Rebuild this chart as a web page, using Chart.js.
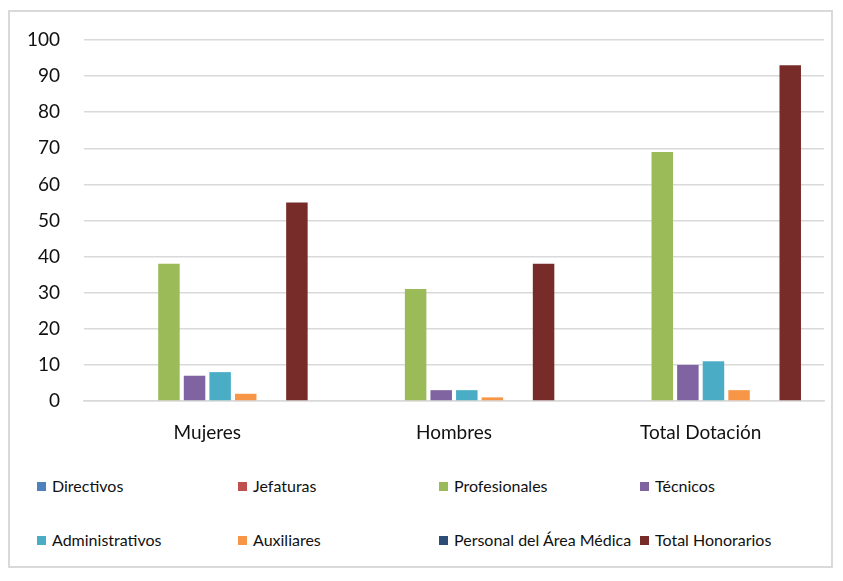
<!DOCTYPE html>
<html>
<head>
<meta charset="utf-8">
<script src="https://cdn.jsdelivr.net/npm/chart.js@4/dist/chart.umd.min.js"></script>
<style>
  body { margin:0; background:#fff; font-family: Lato, "Open Sans", sans-serif; }
  #frame { position:absolute; left:8px; top:10px; width:825px; height:558px; border:2px solid #d9d9d9; box-sizing:border-box; }
  #wrap { position:absolute; left:0; top:0; width:843px; height:460px; }
  #legend { position:absolute; left:37px; top:476px; width:806px; }
  .row { display:flex; height:54px; }
  .item { min-width:201px; font-size:16px; color:#111; white-space:nowrap; line-height:20px; padding-right:6px; box-sizing:border-box; }
  .item i { display:inline-block; width:9px; height:9px; margin-right:6px; vertical-align:1px; }
</style>
</head>
<body>
<div id="frame"></div>
<div id="wrap"><canvas id="chart"></canvas></div>
<div id="legend"></div>
<script>
// categorias y series
const categories = ["Mujeres", "Hombres", "Total Dotación"];
const seriesNames = ["Directivos", "Jefaturas", "Profesionales", "Técnicos",
  "Administrativos", "Auxiliares", "Personal del Área Médica", "Total Honorarios"];
const directivos = [0, 0, 0];
const jefaturas = [0, 0, 0];
const profesionales = [38, 31, 69];
const tecnicos = [7, 3, 10];
const administrativos = [8, 3, 11];
const auxiliares = [2, 1, 3];
const personalMedico = [0, 0, 0];
const totalHonorarios = [55, 38, 93];
const yTicks = [0, 10, 20, 30, 40, 50, 60, 70, 80, 90, 100];

const colors = ["#4F81BD", "#C0504D", "#9BBB59", "#8064A2", "#4BACC6", "#F79646", "#2C4D75", "#772C2A"];
const values = [directivos, jefaturas, profesionales, tecnicos, administrativos, auxiliares, personalMedico, totalHonorarios];

let datasets = [];
for (let i = 0; i < seriesNames.length; i++) {
  datasets.push({
    label: seriesNames[i],
    data: values[i],
    backgroundColor: colors[i],
    categoryPercentage: 0.83,
    barPercentage: 0.84
  });
}

const ctx = document.getElementById("chart").getContext("2d");
const config = new Chart(ctx, {
  type: "bar",
  data: { labels: categories, datasets: datasets },
  options: {
    responsive: true,
    maintainAspectRatio: false,
    animation: false,
    layout: { padding: { left: 9, right: 19, top: 40, bottom: 0 } },
    plugins: { legend: { display: false }, tooltip: { enabled: false } },
    scales: {
      y: {
        min: 0, max: 100,
        afterFit: (s) => { s.width = 75; },
        afterBuildTicks: (s) => { s.ticks = yTicks.map(v => ({ value: v })); },
        grid: { color: "#d9d9d9", lineWidth: 1.5, drawTicks: false },
        border: { display: false },
        ticks: { color: "#111", padding: 24, font: { family: "Lato, 'Open Sans', sans-serif", size: 19 } }
      },
      x: {
        afterFit: (s) => { s.height = 59; },
        grid: { display: false, drawTicks: false },
        border: { color: "#d9d9d9", width: 1.5 },
        ticks: { color: "#111", padding: 20, font: { family: "Lato, 'Open Sans', sans-serif", size: 19 } }
      }
    }
  }
});

// leyenda html, 4 columnas
const legend = document.getElementById("legend");
let row;
seriesNames.forEach((name, i) => {
  if (i % 4 == 0) {
    row = document.createElement("div");
    row.className = "row";
    legend.appendChild(row);
  }
  let d = document.createElement("div");
  d.className = "item";
  d.innerHTML = `<i style="background:${colors[i]}"></i>${name}`;
  row.appendChild(d);
});
</script>
</body>
</html>
